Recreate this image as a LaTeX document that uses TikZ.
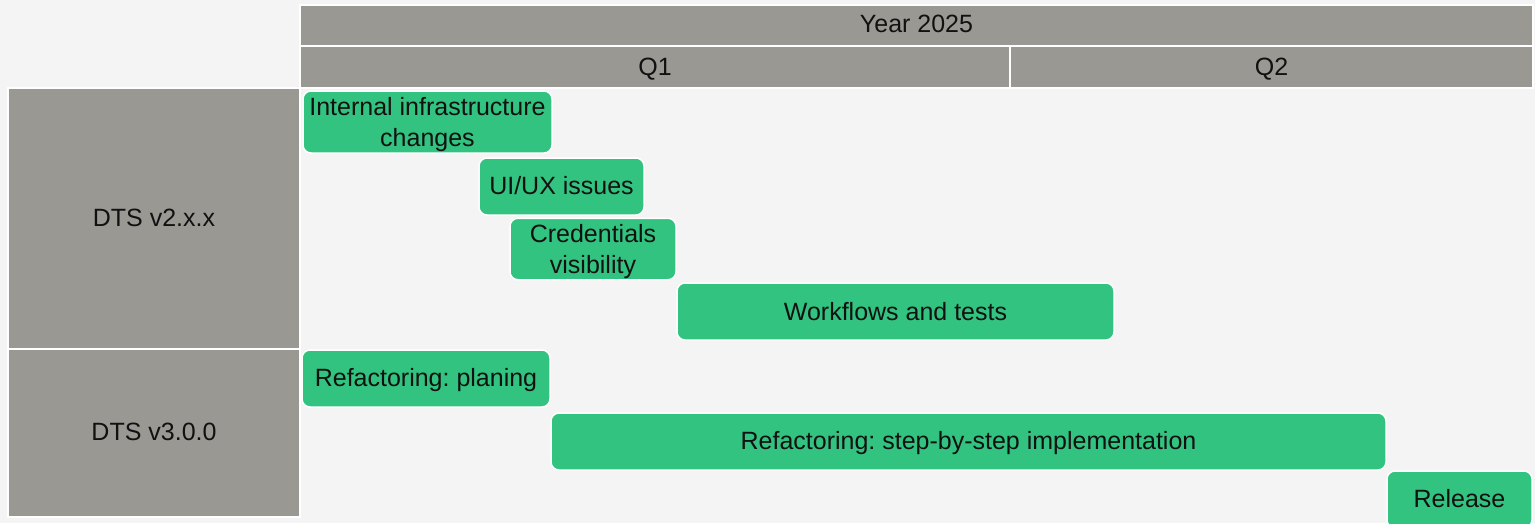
\documentclass[tikz,border=0pt]{standalone}
\usepackage{fontspec}
\setmainfont{Liberation Sans}
\frenchspacing
\definecolor{bg}{RGB}{244,244,244}
\definecolor{hdr}{RGB}{154,152,147}
\definecolor{bar}{RGB}{50,195,128}
\definecolor{txt}{RGB}{17,17,17}
\newcommand{\vdown}[2]{\raisebox{-#1}[\height][\depth]{#2}}
\begin{document}
\begin{tikzpicture}[x=1pt,y=-1pt,
  cell/.style={draw=white,line width=1.5pt,fill=hdr,inner sep=0pt,
    font=\fontsize{25}{30.5}\selectfont,text=txt},
  task/.style={draw=white,line width=1.5pt,fill=bar,rounded corners=8pt,
    inner sep=0pt,align=center,font=\fontsize{25}{30.5}\selectfont,text=txt}]
\fill[bg] (0,0) rectangle (1535,523);
\useasboundingbox (0,0) rectangle (1535,523);
\clip (0,0) rectangle (1535,523);
% header cells
\node[cell,minimum width=1233pt,minimum height=41pt] (year) at (916.5,25.5) {\vdown{-2pt}{Year 2025}};
\node[cell,minimum width=710pt,minimum height=42pt] (q1) at (655,67) {\vdown{2pt}{Q1}};
\node[cell,minimum width=523pt,minimum height=42pt] (q2) at (1271.5,67) {\vdown{2pt}{Q2}};
\node[cell,minimum width=292pt,minimum height=261pt] (v2) at (154,218.5) {\vdown{-1pt}{DTS v2.x.x}};
\node[cell,minimum width=292pt,minimum height=168pt] (v3) at (154,433) {\vdown{-1pt}{DTS v3.0.0}};
% tasks
\node[task,minimum width=249pt,minimum height=62pt] (infra) at (427.5,122) {\vdown{3pt}{\begin{tabular}{@{}c@{}}Internal infrastructure\\[0.5pt]changes\end{tabular}}};
\node[task,minimum width=165pt,minimum height=57pt] (uiux) at (561.5,186.5) {\vdown{-1pt}{UI/UX issues}};
\node[task,minimum width=166pt,minimum height=58pt] (cred) at (593,249) {\vdown{3pt}{\begin{tabular}{@{}c@{}}Credentials\\[0.5pt]visibility\end{tabular}}};
\node[task,minimum width=437pt,minimum height=57pt] (wf) at (895.5,311.5) {Workflows and tests};
\node[task,minimum width=248pt,minimum height=57pt] (plan) at (426,378.5) {\vdown{2pt}{Refactoring: planing}};
\node[task,minimum width=835pt,minimum height=57pt] (impl) at (968.5,441.5) {\vdown{2pt}{Refactoring: step-by-step implementation}};
\node[task,minimum width=145pt,minimum height=57pt] (rel) at (1459.5,499.5) {\vdown{-1pt}{Release}};
\end{tikzpicture}
\end{document}
